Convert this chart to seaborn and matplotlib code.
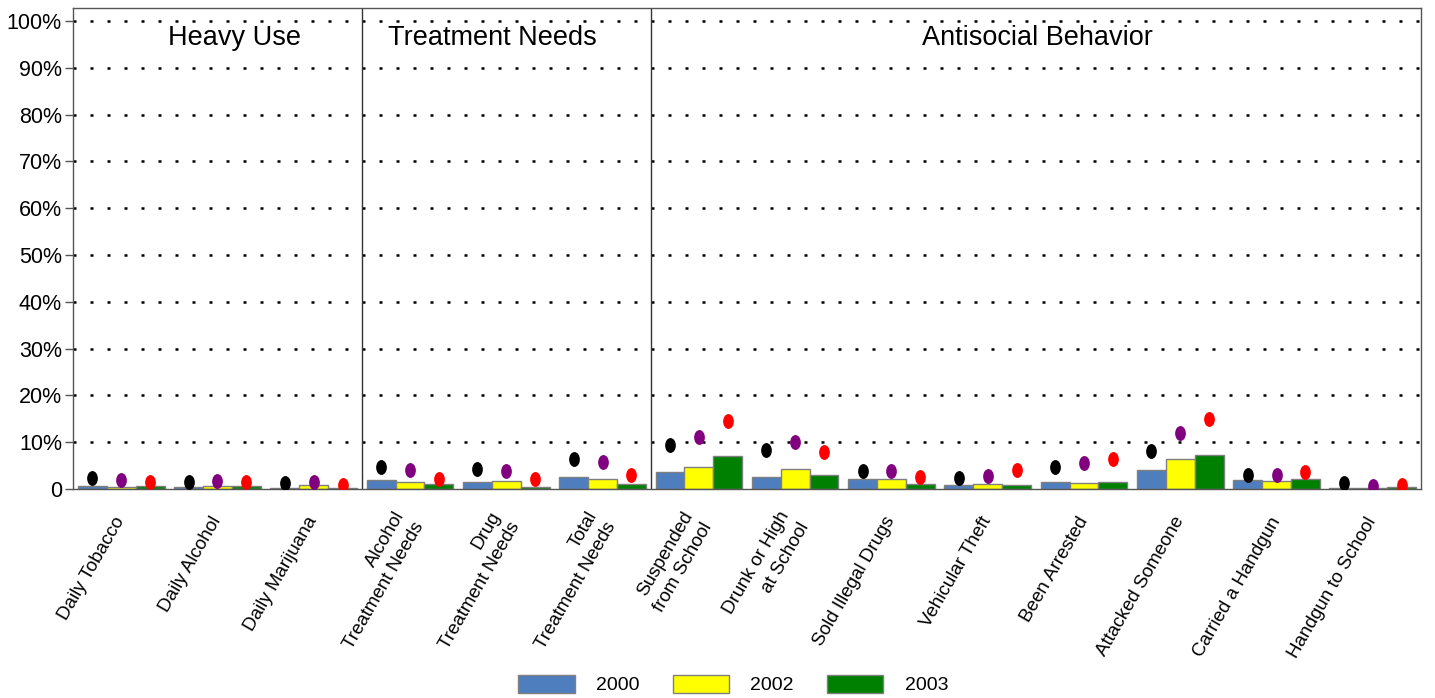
import seaborn as sns
import matplotlib.pyplot as plt
import pandas as pd
import numpy as np
from matplotlib.path import Path
from matplotlib.transforms import Affine2D

# Categories (grouped in three panels)
items = ["Daily Tobacco", "Daily Alcohol", "Daily Marijuana",
         "Alcohol\nTreatment Needs", "Drug\nTreatment Needs", "Total\nTreatment Needs",
         "Suspended\nfrom School", "Drunk or High\nat School", "Sold Illegal Drugs",
         "Vehicular Theft", "Been Arrested", "Attacked Someone",
         "Carried a Handgun", "Handgun to School"]
panels = ["Heavy Use", "Treatment Needs", "Antisocial Behavior"]
panel_sizes = [3, 3, 8]
years = ["2000", "2002", "2003"]

# Bar values (%), one list per year
bars_2000 = [0.64, 0.4, 0.3, 1.85, 1.55, 2.55, 3.6, 2.55, 2.1, 0.85, 1.55, 4.05, 1.85, 0.3]
bars_2002 = [0.4, 0.6, 0.85, 1.55, 1.75, 2.1, 4.6, 4.25, 2.05, 1.0, 1.3, 6.4, 1.65, 0.2]
bars_2003 = [0.6, 0.55, 0.2, 1.05, 0.4, 1.05, 7.1, 3.0, 1.05, 0.8, 1.55, 7.3, 2.2, 0.4]

# Comparison dot values (%), one list per year
dots_2000 = [2.3, 1.6, 1.2, 4.6, 4.25, 6.5, 9.4, 8.3, 3.75, 2.4, 4.75, 8.1, 3.05, 1.2]
dots_2002 = [1.9, 1.8, 1.6, 4.0, 3.75, 5.75, 11.1, 10.1, 3.75, 2.85, 5.5, 12.05, 3.0, 0.7]
dots_2003 = [1.5, 1.4, 0.9, 2.2, 2.2, 3.05, 14.5, 7.9, 2.55, 4.05, 6.4, 15.0, 3.55, 0.8]

bar_colors = ["#4F7EBF", "#FFFF00", "#008000"]
dot_colors = ["black", "#800080", "#FF0000"]

df = pd.DataFrame({
    "Item": items * 3,
    "Year": np.repeat(years, len(items)),
    "Value": bars_2000 + bars_2002 + bars_2003,
})
dots = [dots_2000, dots_2002, dots_2003]

sns.set_style("white")
plt.rcParams["font.family"] = ["Liberation Sans", "DejaVu Sans"]
plt.rcParams["text.color"] = "black"
plt.rcParams["xtick.color"] = "black"
plt.rcParams["ytick.color"] = "black"

fig = plt.figure(figsize=(14.35, 6.98), dpi=100)
ax = fig.add_axes([0.0509, 0.2994, 0.9393, 0.6891])

sns.barplot(data=df, x="Item", y="Value", hue="Year", order=items,
            palette=bar_colors, saturation=1, width=0.9,
            edgecolor="#7f7f7f", linewidth=1, ax=ax, legend=True)

# elliptical marker for the dots
circle = Path.unit_circle()
ellipse = circle.transformed(Affine2D().scale(0.72, 1.0))

for container, vals, col in zip(ax.containers, dots, dot_colors):
    xs = [p.get_x() + p.get_width() / 2 for p in container.patches]
    ax.scatter(xs, vals, marker=ellipse, s=115, color=col, zorder=5, linewidths=0)

ax.set_xlim(-0.5, len(items) - 0.5)
ax.set_ylim(0, 102.8)
ax.set_yticks(range(0, 101, 10))
ax.set_yticklabels(["0"] + [f"{v}%" for v in range(10, 101, 10)], fontsize=15.5)
ax.tick_params(axis="y", which="major", length=6, width=1, color="#555555", left=True, pad=2)
ax.tick_params(axis="x", length=0, pad=21)

for v in range(10, 101, 10):
    ax.axhline(v, color="black", linestyle=(0, (1.2, 5.6)), linewidth=1.8, zorder=0)

for sp in ["top", "right", "left", "bottom"]:
    ax.spines[sp].set_color("#555555")
    ax.spines[sp].set_linewidth(1)

# panel separators and titles
title_x = [1.18, 3.86, 9.52]
start = 0
for name, n, tx in zip(panels, panel_sizes, title_x):
    ax.text(tx, 96.5, name, ha="center", va="center", fontsize=19.5)
    start += n
    if start < len(items):
        ax.axvline(start - 0.5, color="#333333", linewidth=1)

ax.set_xticks(range(len(items)))
ax.set_xticklabels(items, rotation=60, ha="right", va="center", rotation_mode="anchor",
                   fontsize=13.5, multialignment="right", linespacing=1.4)
ax.set_xlabel("")
ax.set_ylabel("")

handles, labels = ax.get_legend_handles_labels()
ax.get_legend().remove()
fig.legend(handles, labels, loc="lower center", bbox_to_anchor=(0.511, -0.02), ncol=3,
           frameon=False, handlelength=2.9, handleheight=1.05, handletextpad=1.1,
           columnspacing=1.7, prop={"size": 14})

plt.savefig("out.png", dpi=100)
plt.close()
